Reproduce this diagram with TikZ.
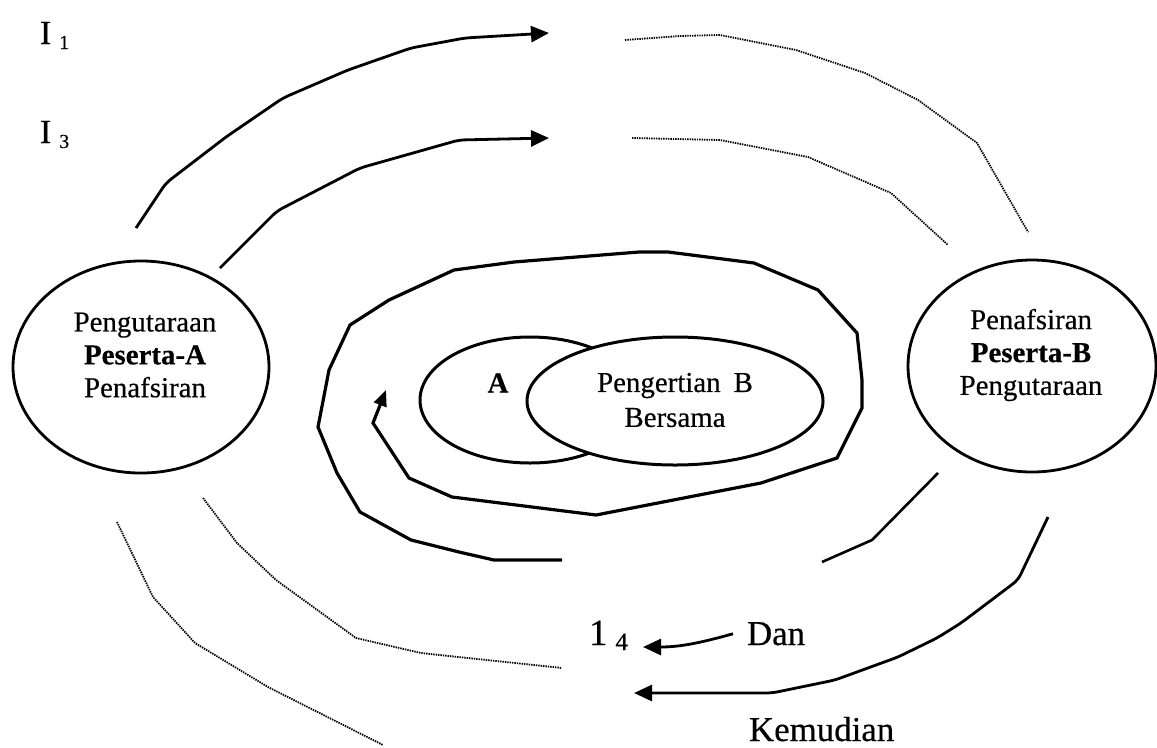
\documentclass[tikz,border=0pt]{standalone}
\usepackage{fontspec}
\setmainfont[FakeBold=0.4]{Liberation Serif}
\usetikzlibrary{arrows.meta,shapes.geometric}
\newcommand{\circfont}{\fontsize{14.5}{16.5}\selectfont}
\newcommand{\pairfont}{\fontsize{14.5}{17.5}\selectfont}
\newcommand{\labfont}{\fontsize{17.5}{20}\selectfont}
\newcommand{\idxfont}{\fontsize{17}{19}\selectfont}
\newcommand{\subfont}{\fontsize{10}{11}\selectfont}
\newcommand{\lowidx}[1]{\hspace{4bp}\raisebox{-2.5bp}{\subfont #1}}
\tikzset{
  every node/.style={inner sep=0pt,outer sep=0pt},
  party/.style={ellipse,draw,line width=1.4bp,minimum height=106bp},
  meaning/.style={ellipse,draw,line width=1.5bp,fill=white},
  body/.style={font=\circfont,align=center},
  word/.style={font=\labfont,anchor=base west},
  index/.style={font=\idxfont,anchor=base west},
  talk/.style={line width=1.4bp,rounded corners=3bp,-{Triangle[length=9bp,width=8bp]}},
  spiral/.style={line width=1.6bp,line join=miter,-{Triangle[length=8bp,width=6.5bp]}},
  trace/.style={line width=.9bp,dash pattern=on .7bp off .5bp,line join=round},
  plain/.style={line width=1.3bp,line join=miter}
}

\begin{document}
\begin{tikzpicture}[x=.5bp,y=-.5bp]
\path[use as bounding box] (0,0) rectangle (1157,747);

% the two parties
\node[party,minimum width=128bp] (pa) at (141,367) {};
\node[party,minimum width=124bp] (pb) at (1032,366) {};
\node[body] (ta) at (145,355) {Pengutaraan\\\textbf{Peserta-A}\\Penafsiran};
\node[body] (tb) at (1031,355) {Penafsiran\\\textbf{Peserta-B}\\Pengutaraan};

% shared meaning
\node[meaning,minimum width=110bp,minimum height=63bp] (ma) at (530,400) {};
\node[meaning,minimum width=148bp,minimum height=64bp] (mb) at (675,401) {};
\node[font=\circfont] (la) at (498,383) {\textbf{A}};
\node[font=\pairfont,align=center] (lb) at (675,400) {Pengertian\hspace{.45em}B\\Bersama};

% labels
\node[index] (i1) at (40,44) {I\lowidx{1}};
\node[index] (i3) at (40,143) {I\lowidx{3}};
\node[word,font=\fontsize{18.5}{20}\selectfont] (i4) at (589,645)
  {1\hspace{4bp}\raisebox{-2.5bp}{\fontsize{12.5}{13}\selectfont 4}};
\node[word] (dan) at (747,645) {Dan};
\node[word] (kem) at (749,741) {Kemudian};

% messages A -> B, solid then traced
\draw[talk] (136,228) -- (166,183) -- (226,137) -- (283,98) -- (348,70) -- (411,48) -- (465,38) -- (549,33);
\draw[talk] (220,268) -- (277,211) -- (360,168) -- (459,140) -- (549,138);
\draw[trace] (625,40) -- (680,36) -- (720,35) -- (796,50) -- (865,73) -- (918,100) -- (977,143) -- (1028,232);
\draw[trace] (632,138) -- (720,140) -- (808,157) -- (891,193) -- (948,245);

% messages B -> A
\draw[plain] (822,562) -- (872,540) -- (938,473);
\draw[talk] (1048,517) -- (1018,580) -- (961,623) -- (937,638) -- (898,657) -- (835,680) -- (772,693) -- (634,693);
\draw[talk] (dan.west) ++(-14,0) coordinate (dstart) .. controls (700,643) and (680,647) .. (643,647);
\draw[trace] (203,498) -- (237,543) -- (276,580) -- (356,638) -- (421,653) -- (562,668);
\draw[trace] (117,522) -- (153,597) -- (195,643) -- (268,687) -- (383,745);

% convergence spiral
\draw[spiral] (562,560) -- (494,560) -- (459,552) -- (411,540) -- (360,512) -- (337,473)
  -- (318,427) -- (329,370) -- (350,325) -- (389,300) -- (454,270) -- (514,262) -- (639,252)
  -- (668,252) -- (754,263) -- (818,290) -- (857,333) -- (862,380) -- (862,408) -- (837,458)
  -- (761,483) -- (596,515) -- (452,497) -- (409,478) -- (373,423) -- (386,390);
\end{tikzpicture}
\end{document}
